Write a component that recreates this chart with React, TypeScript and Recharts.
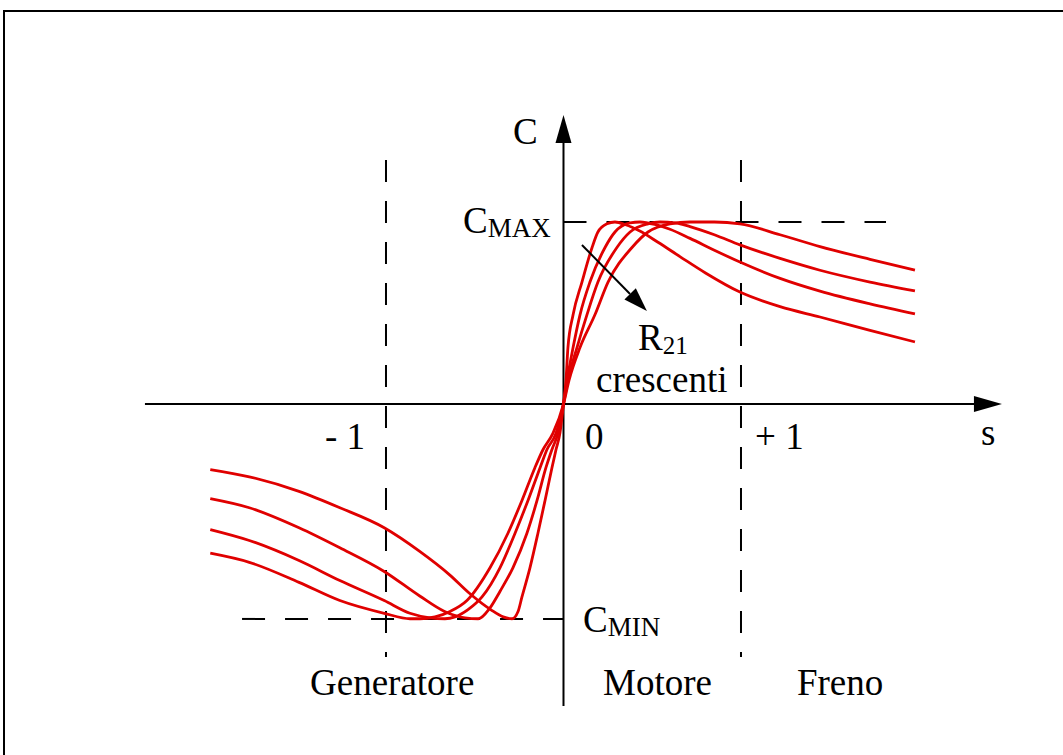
import { LineChart, Line, XAxis, YAxis, ReferenceLine, ReferenceDot } from 'recharts';

// slip s (x) and torque C in units of C_MAX (y)
// curves ordered by increasing rotor resistance R21
const curveR1: [number, number][] = [
  [-1.99, -0.36], [-1.77, -0.4], [-1.49, -0.48], [-1.26, -0.57], [-1.01, -0.68], [-0.81, -0.81],
  [-0.64, -0.94], [-0.53, -1.04], [-0.41, -1.13], [-0.34, -1.17], [-0.29, -1.18], [-0.256, -1.14],
  [-0.234, -1.06], [-0.189, -0.9], [-0.144, -0.71], [-0.104, -0.53], [-0.065, -0.35], [-0.042, -0.25],
  [-0.02, -0.16], [0, 0], [0.014, 0.13], [0.025, 0.31], [0.054, 0.49], [0.104, 0.67], [0.161, 0.86],
  [0.194, 0.945], [0.245, 0.99], [0.29, 1.0], [0.35, 0.985], [0.43, 0.95], [0.53, 0.89],
  [0.656, 0.81], [0.8, 0.72], [0.994, 0.615], [1.22, 0.535], [1.445, 0.478], [1.727, 0.405],
  [1.98, 0.341],
];

const curveR2: [number, number][] = [
  [-1.99, -0.52], [-1.77, -0.57], [-1.49, -0.68], [-1.26, -0.79], [-1.01, -0.92], [-0.81, -1.055],
  [-0.67, -1.14], [-0.555, -1.175], [-0.48, -1.18], [-0.414, -1.12], [-0.358, -1.03], [-0.285, -0.9],
  [-0.206, -0.71], [-0.149, -0.53], [-0.099, -0.35], [-0.065, -0.25], [-0.031, -0.16], [0, 0],
  [0.02, 0.13], [0.054, 0.31], [0.093, 0.49], [0.149, 0.67], [0.234, 0.86], [0.29, 0.945],
  [0.375, 0.995], [0.431, 1.0], [0.52, 0.985], [0.6, 0.96], [0.713, 0.91], [0.85, 0.845],
  [0.994, 0.78], [1.22, 0.69], [1.445, 0.62], [1.727, 0.55], [1.98, 0.495],
];

const curveR3: [number, number][] = [
  [-1.99, -0.69], [-1.77, -0.75], [-1.49, -0.86], [-1.26, -0.97], [-1.01, -1.08], [-0.865, -1.15],
  [-0.752, -1.175], [-0.668, -1.18], [-0.611, -1.17], [-0.538, -1.13], [-0.459, -1.06], [-0.358, -0.9],
  [-0.273, -0.71], [-0.2, -0.53], [-0.132, -0.35], [-0.093, -0.25], [-0.042, -0.16], [0, 0],
  [0.025, 0.13], [0.076, 0.31], [0.132, 0.49], [0.194, 0.67], [0.301, 0.86], [0.375, 0.945],
  [0.476, 0.99], [0.544, 1.0], [0.63, 0.995], [0.713, 0.975], [0.85, 0.93], [0.994, 0.874],
  [1.22, 0.8], [1.445, 0.735], [1.727, 0.67], [1.98, 0.621],
];

const curveR4: [number, number][] = [
  [-1.99, -0.82], [-1.77, -0.87], [-1.49, -0.98], [-1.26, -1.08], [-1.01, -1.15], [-0.865, -1.18],
  [-0.808, -1.18], [-0.724, -1.17], [-0.639, -1.14], [-0.544, -1.08], [-0.414, -0.9], [-0.313, -0.71],
  [-0.234, -0.53], [-0.161, -0.35], [-0.115, -0.25], [-0.059, -0.16], [0, 0], [0.031, 0.13],
  [0.093, 0.31], [0.177, 0.49], [0.251, 0.67], [0.386, 0.86], [0.476, 0.945], [0.6, 0.99],
  [0.713, 1.0], [0.85, 1.0], [0.994, 0.99], [1.22, 0.93], [1.445, 0.865], [1.727, 0.795],
  [1.98, 0.736],
];

const curves = [curveR1, curveR2, curveR3, curveR4];

const C_MAX = 1.0;
const C_MIN = -1.181;

const serif = '"Liberation Serif", "Times New Roman", serif';

const toRows = (pts: [number, number][]) => pts.map(([s, c]) => ({ s, c }));

const textShape = (text: string, sub?: string, subSize = 27, subDy = 4) => (props: any) => (
  <text x={props.cx} y={props.cy} fontFamily={serif} fontSize={37} fill="#000">
    {text}
    {sub && (
      <tspan fontSize={subSize} dy={subDy}>
        {sub}
      </tspan>
    )}
  </text>
);

// annotation text, anchored at its left baseline (data units)
const labels: { s: number; c: number; text: string; sub?: string; subSize?: number }[] = [
  { s: -0.285, c: 1.429, text: 'C' },
  { s: -0.566, c: 0.94, text: 'C', sub: 'MAX' },
  { s: 0.11, c: -1.253, text: 'C', sub: 'MIN' },
  { s: -1.344, c: -0.247, text: '- 1' },
  { s: 0.121, c: -0.247, text: '0' },
  { s: 1.079, c: -0.247, text: '+ 1' },
  { s: 2.352, c: -0.225, text: 's' },
  { s: 0.42, c: 0.297, text: 'R', sub: '21', subSize: 25 },
  { s: 0.183, c: 0.066, text: 'crescenti' },
  { s: -1.428, c: -1.6, text: 'Generatore' },
  { s: 0.223, c: -1.6, text: 'Motore' },
  { s: 1.315, c: -1.6, text: 'Freno' },
];

const arrowRight = (props: any) => (
  <polygon
    points={`${props.cx},${props.cy} ${props.cx - 28},${props.cy - 8} ${props.cx - 28},${props.cy + 8}`}
    fill="#000"
  />
);

const arrowUp = (props: any) => (
  <polygon
    points={`${props.cx},${props.cy} ${props.cx - 8},${props.cy + 28} ${props.cx + 8},${props.cy + 28}`}
    fill="#000"
  />
);

const arrowDiag = (props: any) => (
  <polygon
    points={`${props.cx},${props.cy} ${props.cx - 22.5},${props.cy - 11.5} ${props.cx - 11.1},${props.cy - 22.7}`}
    fill="#000"
  />
);

const dash = { stroke: '#000', strokeWidth: 2 };

export default function App() {
  return (
    <div
      style={{
        position: 'absolute',
        left: 0,
        top: 0,
        width: 1063,
        height: 755,
        overflow: 'hidden',
        background: '#fff',
      }}
    >
      <div
        style={{
          position: 'absolute',
          left: 3,
          top: 10,
          width: 1100,
          height: 800,
          border: '2px solid #000',
        }}
      />
      <div style={{ position: 'absolute', left: 0, top: 0 }}>
        <LineChart width={1063} height={755} margin={{ top: 0, right: 0, bottom: 0, left: 0 }}>
          <XAxis type="number" dataKey="s" domain={[-3.1746, 2.8141]} allowDataOverflow hide />
          <YAxis type="number" dataKey="c" domain={[-1.9286, 2.2198]} allowDataOverflow hide />

          <ReferenceLine segment={[{ x: -1, y: 1.341 }, { x: -1, y: -1.39 }]} {...dash} strokeDasharray="22 19" />
          <ReferenceLine segment={[{ x: 1, y: 1.341 }, { x: 1, y: -1.39 }]} {...dash} strokeDasharray="22 19" />
          <ReferenceLine segment={[{ x: 0, y: C_MAX }, { x: 1.817, y: C_MAX }]} {...dash} strokeDasharray="23 20" />
          <ReferenceLine segment={[{ x: -1.811, y: C_MIN }, { x: 0, y: C_MIN }]} {...dash} strokeDasharray="23 20" />

          <ReferenceLine segment={[{ x: -2.358, y: 0 }, { x: 2.33, y: 0 }]} {...dash} />
          <ReferenceLine segment={[{ x: 0, y: -1.66 }, { x: 0, y: 1.45 }]} {...dash} />
          <ReferenceDot x={2.47} y={0} shape={arrowRight} />
          <ReferenceDot x={0} y={1.588} shape={arrowUp} />

          {curves.map((pts, i) => (
            <Line
              key={i}
              data={toRows(pts)}
              dataKey="c"
              type="monotone"
              stroke="#e00000"
              strokeWidth={2.8}
              dot={false}
              activeDot={false}
              legendType="none"
              isAnimationActive={false}
            />
          ))}

          <ReferenceLine segment={[{ x: 0.104, y: 0.874 }, { x: 0.375, y: 0.604 }]} {...dash} />
          <ReferenceDot x={0.47} y={0.511} shape={arrowDiag} />

          {labels.map((l, i) => (
            <ReferenceDot key={i} x={l.s} y={l.c} shape={textShape(l.text, l.sub, l.subSize)} />
          ))}
        </LineChart>
      </div>
    </div>
  );
}
